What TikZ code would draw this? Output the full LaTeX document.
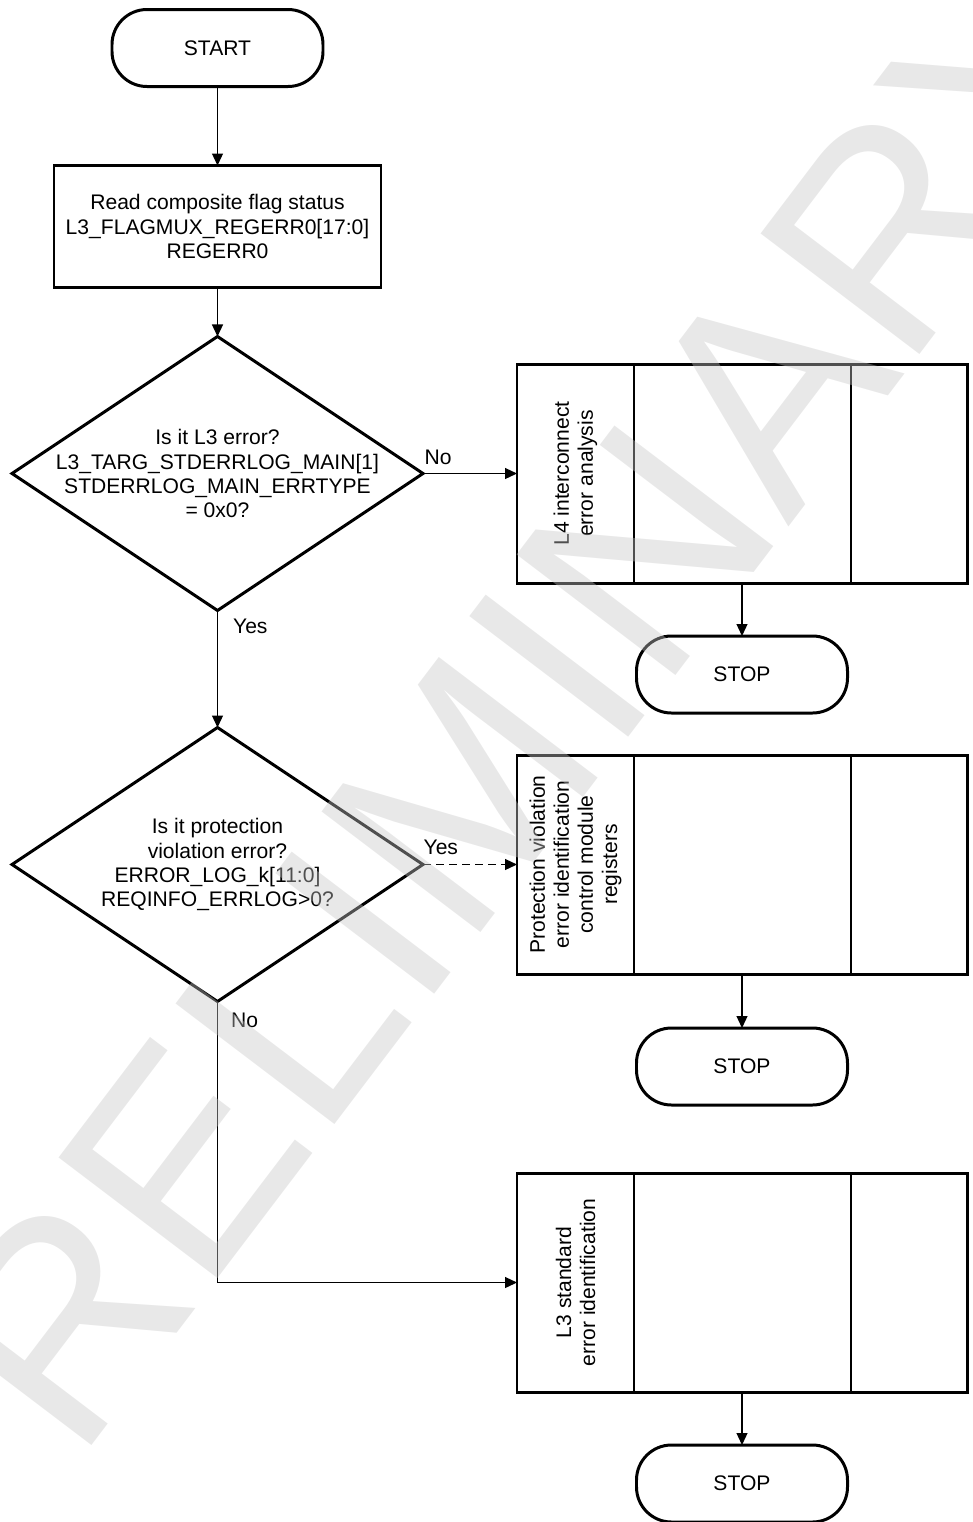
\documentclass[tikz,border=0pt]{standalone}
\usepackage{fontspec}
\setmainfont{Liberation Sans}
\usetikzlibrary{shapes.geometric, arrows.meta, positioning, calc}

\begin{document}
\begin{tikzpicture}[
  font             = \fontsize{12}{13.7}\selectfont,
  %--- style definitions ---
  terminal/.style  = {rectangle, rounded corners=0.7cm, draw=black, line width=1.7pt,
                      outer sep=0pt, minimum width=4.22cm, minimum height=1.54cm, align=center},
  process/.style   = {rectangle, draw=black, line width=1.7pt, outer sep=0pt,
                      minimum width=6.54cm, minimum height=2.44cm, align=center},
  decision/.style  = {diamond, draw=black, line width=1.7pt, inner sep=0pt, outer sep=0pt,
                      minimum width=8.22cm, minimum height=5.48cm},
  dtext/.style     = {align=center, inner sep=0pt},
  sheet/.style     = {rectangle, draw=black, line width=1.7pt, outer sep=0pt,
                      minimum width=9cm, minimum height=4.38cm},
  divider/.style   = {line width=1.1pt, color=black},
  vtext/.style     = {rotate=90, align=center, inner sep=0pt},
  arrow/.style     = {-{Triangle[length=0.24cm,width=0.22cm]}, line width=0.7pt, color=black},
  darrow/.style    = {arrow, dash pattern=on 0.16cm off 0.1cm},
  branchlabel/.style = {inner sep=0pt},
  wmark/.style     = {rotate=52.8, anchor=base west, inner sep=0pt, text=black!22.5,
                      text opacity=0.4, font=\fontsize{165}{165}\selectfont},
]
\useasboundingbox (0,0) rectangle (19.46,-30.44);

%% ── MAIN COLUMN ────────────────────────────────────────────────────────────
\node[terminal] (start) at (4.35,-0.96) {START};

\node[process, below=1.58cm of start] (read)
      {Read composite flag status\\L3\_FLAGMUX\_REGERR0[17:0]\\REGERR0};

\node[decision, below=0.98cm of read,
      label={[dtext]center:{Is it L3 error?\\L3\_TARG\_STDERRLOG\_MAIN[1]\\STDERRLOG\_MAIN\_ERRTYPE\\= 0x0?}}] (q1) {};

\node[decision, below=2.34cm of q1,
      label={[dtext]center:{Is it protection\\violation error?\\ERROR\_LOG\_k[11:0]\\REQINFO\_ERRLOG>0?}}] (q2) {};

%% ── RIGHT COLUMN ───────────────────────────────────────────────────────────
\node[sheet, right=1.88cm of q1] (l4) {};
\node[terminal, below=1.06cm of l4] (stop1) {STOP};

\node[sheet, right=1.88cm of q2] (pv) {};
\node[terminal, below=1.08cm of pv] (stop2) {STOP};

\node[sheet, below=3.98cm of pv] (l3s) {};
\node[terminal, below=1.06cm of l3s] (stop3) {STOP};

% column dividers
\foreach \b in {l4, pv, l3s}
  \foreach \f in {0.26, 0.742}
    \draw[divider] ($(\b.north west)!\f!(\b.north east)$) -- ($(\b.south west)!\f!(\b.south east)$);

% rotated titles
\node[vtext] (l4txt)  at ($(l4.west)!0.13!(l4.east)$)  {L4 interconnect\\error analysis};
\node[vtext] (pvtxt)  at ($(pv.west)!0.13!(pv.east)$)  {Protection violation\\error identification\\control module\\registers};
\node[vtext] (l3stxt) at ($(l3s.west)!0.13!(l3s.east)$) {L3 standard\\error identification};

%% ── ARROWS ─────────────────────────────────────────────────────────────────
\draw[arrow] (start) -- (read);
\draw[arrow] (read) -- (q1);

\draw[arrow] (q1.east) -- node[branchlabel, pos=0, anchor=south west, xshift=0.02cm, yshift=0.16cm] (no1) {No} (l4.west);
\draw[arrow] (q1.south) -- node[branchlabel, pos=0, anchor=north west, xshift=0.3cm, yshift=-0.16cm] (yes1) {Yes} (q2.north);

\draw[darrow] (q2.east) -- node[branchlabel, pos=0, anchor=south west, yshift=0.18cm] (yes2) {Yes} (pv.west);
\draw[arrow] (q2.south) |- node[branchlabel, pos=0, anchor=north west, xshift=0.26cm, yshift=-0.22cm] (no2) {No} (l3s.west);

\draw[arrow] (l4) -- (stop1);
\draw[arrow] (pv) -- (stop2);
\draw[arrow] (l3s) -- (stop3);

%% ── WATERMARK ──────────────────────────────────────────────────────────────
\begin{scope}
  \clip (0,0) rectangle (19.46,-30.44);
  \node[wmark] (wm) at (-0.8,-32.38) {PRELIMINARY};
\end{scope}

\end{tikzpicture}
\end{document}
